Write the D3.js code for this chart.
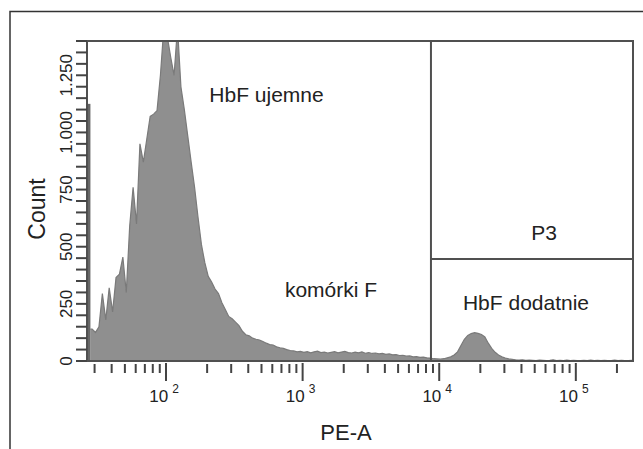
<!DOCTYPE html>
<html>
<head>
<meta charset="utf-8">
<script src="https://cdn.jsdelivr.net/npm/d3@7"></script>
<style>
  html, body { margin: 0; padding: 0; background: #fff; }
  svg text { font-family: "Liberation Sans", Arial, Helvetica, sans-serif; fill: #222; }
</style>
</head>
<body>
<div id="chart"></div>
<script>

// PE-A histogram, log bins (40 per decade) starting at xLo
// first bin is the pile-up at the low end of the scale
const xLo = 26.4;
const xHi = 262143;
const binsPerDecade = 40;
const counts = [
  1125, 140, 125, 150, 295, 180, 320, 215, 365, 380,
  455, 300, 590, 760, 600, 950, 870, 970, 1070, 1080,
  1095, 1250, 1460, 1420, 1330, 1250, 1460, 1200, 1100, 985,
  870, 760, 630, 510, 430, 370, 345, 315, 295, 255,
  225, 195, 185, 170, 155, 130, 115, 110, 100, 95,
  92, 85, 78, 72, 70, 62, 58, 55, 50, 46,
  44, 40, 42, 38, 41, 36, 40, 43, 37, 39,
  35, 38, 41, 36, 39, 42, 37, 35, 39, 36,
  40, 34, 37, 33, 35, 31, 33, 29, 31, 27,
  28, 24, 25, 21, 22, 18, 19, 16, 17, 14,
  13, 10, 9, 8, 10, 14, 18, 26, 40, 68,
  95, 112, 120, 124, 121, 116, 105, 78, 55, 38,
  26, 18, 13, 9, 7, 5, 4, 5, 3, 4,
  3, 2, 4, 3, 2, 3, 5, 2, 3, 2,
  4, 2, 3, 2, 2, 3, 2, 4, 2, 3,
  2, 3, 2, 2, 4, 2, 3, 2, 2, 3
];

const yMax = 1400;
const yTicks = [0, 250, 500, 750, 1000, 1250];
const yTickLabels = ["0", "250", "500", "750", "1.000", "1.250"];
const xMajor = [100, 1000, 10000, 100000];
const xMajorExp = ["2", "3", "4", "5"];

// gates
const gateLo = 8700;
const gateLevel = 446;

const labels = [
  { text: "HbF ujemne",   x: 544,   y: 1134 },
  { text: "komórki F",    x: 1614,  y: 280 },
  { text: "P3",           x: 58480, y: 529 },
  { text: "HbF dodatnie", x: 43180, y: 223 }
];

const width = 643, height = 449;
const margin = { top: 41, right: 10, bottom: 88, left: 87 };
const innerW = width - margin.left - margin.right;
const innerH = height - margin.top - margin.bottom;

const svg = d3.select("#chart").append("svg")
  .attr("width", width)
  .attr("height", height);

// outer frame (open at right and bottom)
svg.append("path")
  .attr("d", "M10,449V11.5H643")
  .attr("fill", "none")
  .attr("stroke", "#333")
  .attr("stroke-width", 1.5);

const g = svg.append("g")
  .attr("transform", "translate(" + margin.left + "," + margin.top + ")");

const x = d3.scaleLog().domain([xLo, xHi]).range([0, innerW]);
const y = d3.scaleLinear().domain([0, yMax]).range([innerH, 0]);

g.append("clipPath").attr("id", "clip")
  .append("rect").attr("width", innerW).attr("height", innerH);

const edge = i => xLo * Math.pow(10, i / binsPerDecade);

// bins 1.. drawn through bin centres
const pts = counts.slice(1).map((c, i) => ({ x: edge(i + 1.5), y: c }));
pts.unshift({ x: edge(1), y: counts[1] });
pts.push({ x: edge(counts.length), y: counts[counts.length - 1] });

const area = d3.area()
  .x(d => x(d.x))
  .y0(innerH)
  .y1(d => y(d.y));

const line = d3.line()
  .x(d => x(d.x))
  .y(d => y(d.y));

const hist = g.append("g").attr("clip-path", "url(#clip)");

hist.append("path")
  .datum(pts)
  .attr("fill", "#8f8f8f")
  .attr("d", area);

hist.append("path")
  .datum(pts)
  .attr("fill", "none")
  .attr("stroke", "#7a7a7a")
  .attr("stroke-width", 1.2)
  .attr("d", line);

// low-end pile-up bin
hist.append("rect")
  .attr("x", x(edge(0)))
  .attr("width", x(edge(1)) - x(edge(0)))
  .attr("y", y(counts[0]))
  .attr("height", innerH - y(counts[0]))
  .attr("fill", "#666");

// plot frame
g.append("rect")
  .attr("width", innerW).attr("height", innerH)
  .attr("fill", "none")
  .attr("stroke", "#505050")
  .attr("stroke-width", 2);

// gate lines
g.append("line")
  .attr("x1", x(gateLo)).attr("x2", x(gateLo))
  .attr("y1", 0).attr("y2", innerH)
  .attr("stroke", "#505050").attr("stroke-width", 2);

g.append("line")
  .attr("x1", x(gateLo)).attr("x2", innerW)
  .attr("y1", y(gateLevel)).attr("y2", y(gateLevel))
  .attr("stroke", "#505050").attr("stroke-width", 2);

// Y AXIS
const yMinor = d3.range(0, yMax + 1, 50);
g.append("g").selectAll("line")
  .data(yMinor)
  .join("line")
  .attr("x1", -11).attr("x2", 0)
  .attr("y1", d => y(d)).attr("y2", d => y(d))
  .attr("stroke", "#444").attr("stroke-width", 2);

g.append("g").selectAll("text")
  .data(yTicks)
  .join("text")
  .attr("transform", d => "translate(-15," + y(d) + ") rotate(-90)")
  .attr("text-anchor", "middle")
  .style("font-size", "17px")
  .text((d, i) => yTickLabels[i]);

// X AXIS
const xMinor = [];
[10, 100, 1000, 10000, 100000].forEach(dec => {
  for (let k = 2; k <= 9; k++) {
    const v = dec * k;
    if (v >= xLo && v <= xHi) xMinor.push(v);
  }
});

g.append("g").selectAll("line")
  .data(xMinor)
  .join("line")
  .attr("x1", d => x(d)).attr("x2", d => x(d))
  .attr("y1", innerH + 3).attr("y2", innerH + 12)
  .attr("stroke", "#444").attr("stroke-width", 2);

g.append("g").selectAll("line")
  .data(xMajor)
  .join("line")
  .attr("x1", d => x(d)).attr("x2", d => x(d))
  .attr("y1", innerH + 2).attr("y2", innerH + 20)
  .attr("stroke", "#444").attr("stroke-width", 2);

const xl = g.append("g").selectAll("text")
  .data(xMajor)
  .join("text")
  .attr("x", d => x(d) - 2)
  .attr("y", innerH + 41)
  .attr("text-anchor", "middle");
xl.append("tspan").style("font-size", "17px").text("10");
xl.append("tspan").style("font-size", "12px").attr("dx", 4).attr("dy", -9)
  .text((d, i) => xMajorExp[i]);

// TITLES
svg.append("text")
  .attr("x", 346).attr("y", 440)
  .attr("text-anchor", "middle")
  .style("font-size", "22px")
  .text("PE-A");

svg.append("text")
  .attr("transform", "translate(45,209) rotate(-90)")
  .attr("text-anchor", "middle")
  .style("font-size", "23px")
  .text("Count");

// annotations
g.append("g").selectAll("text")
  .data(labels)
  .join("text")
  .attr("x", d => x(d.x))
  .attr("y", d => y(d.y))
  .attr("text-anchor", "middle")
  .style("font-size", "21px")
  .text(d => d.text);

</script>
</body>
</html>
